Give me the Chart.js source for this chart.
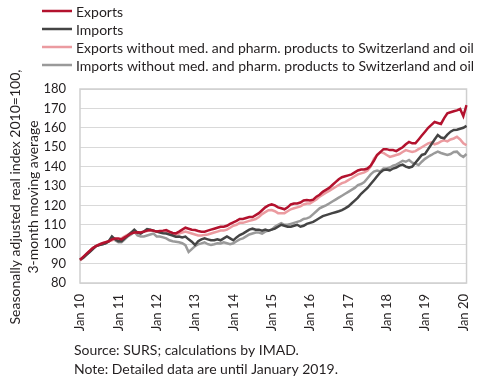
<!DOCTYPE html>
<html>
<head>
<meta charset="utf-8">
<script src="https://cdn.jsdelivr.net/npm/chart.js@4/dist/chart.umd.min.js"></script>
<style>
html,body{margin:0;padding:0;background:#fff;}
#wrap{position:relative;width:490px;height:378px;}
canvas{display:block;}
</style>
</head>
<body>
<div id="wrap"><canvas id="c" width="490" height="378"></canvas></div>
<script>
// ---- data ----
const years = ["10","11","12","13","14","15","16","17","18","19","20"];
const monthNames = ["Jan","Feb","Mar","Apr","May","Jun","Jul","Aug","Sep","Oct","Nov","Dec"];
const tickLabels = ["Jan 10","Jan 11","Jan 12","Jan 13","Jan 14","Jan 15","Jan 16","Jan 17","Jan 18","Jan 19","Jan 20"];
const seriesNames = [
  "Exports",
  "Imports",
  "Exports without med. and pharm. products to Switzerland and oil",
  "Imports without med. and pharm. products to Switzerland and oil"
];
const exportsVals = [
  92, 93.5, 95, 96.5, 98, 99, 99.8, 100.5, 101, 101.5, 102.5, 103,
  103, 102.5, 103.5, 104.5, 105.5, 106, 106.2, 106, 106.5, 107, 107.3, 107,
  106.5, 106.8, 107, 107.3, 106.5, 105.8, 105.6, 106.5, 107.5, 108.5, 108, 107.5,
  107.3, 106.8, 106.4, 106.4, 107, 107.5, 108, 108.5, 109, 109, 109.5, 110.5,
  111.3, 112, 113, 113, 113.5, 114, 114, 115, 116, 117.5, 119, 120,
  120.5, 120, 119, 118.5, 118, 119, 120.5, 121, 121, 121.5, 122.5, 122.8,
  122.5, 123, 124.5, 125.5, 127, 128, 129, 130.5, 132, 133.5, 134.5, 135,
  135.5, 136, 137, 138, 138.5, 138.5, 139, 140.5, 143, 146, 147.5, 149,
  149, 148.5, 148.5, 148, 149, 150, 151.5, 152.7, 152, 152, 154, 156,
  158, 160, 161.5, 163, 162.5, 162, 165, 167.5, 168, 168.5, 169, 169.7,
  166, 171.7
];
const importsVals = [
  92, 93, 94.5, 96, 97.5, 99, 99.5, 100, 100.5, 101.5, 104, 102.5,
  101.5, 101.5, 103, 104.5, 106, 107.5, 106, 105.5, 106.5, 107.8, 107.5, 107,
  106.5, 106, 105.7, 105.5, 105, 104.5, 103.9, 104, 103.5, 103.9, 102.5, 101.3,
  99.6, 101.5, 102.5, 103, 102.5, 102, 102, 102.5, 102, 103, 104, 103,
  102, 103.5, 104.7, 105.5, 106.5, 107.5, 108, 107.5, 107.5, 107, 107.5, 107,
  107.5, 108, 109, 110, 109.5, 109, 109, 109.5, 110, 109, 109.5, 110.5,
  111, 111.5, 112.5, 113.5, 114.5, 115, 115.5, 116, 116.5, 117, 117.6, 118.5,
  119.5, 121, 122.5, 124, 126, 127.5, 129, 131, 133, 135, 137, 138.2,
  138.5, 138, 139, 139.5, 140.5, 141, 140, 139.5, 140, 142, 144, 146,
  146.5, 149, 151.5, 154, 156.3, 155, 154.6, 156.5, 158, 158.9, 159, 159.5,
  160, 161
];
const exportsExVals = [
  91.5, 93, 95, 96.5, 98, 99, 100, 100.5, 101, 101.5, 102, 102.5,
  102.5, 103, 104, 105, 106, 106, 106, 106, 106.5, 106.8, 107, 106.8,
  106.5, 106.5, 106.3, 106.5, 106, 105.5, 105, 105.5, 106, 106.5, 106, 105.5,
  105, 104.5, 104.5, 104.8, 105, 105.5, 106, 106.5, 107, 107, 107.5, 108.5,
  109.5, 110, 111, 111, 111.5, 112, 112.5, 113, 114, 115.5, 116.5, 117.5,
  117.6, 117, 116, 115.9, 116, 117, 118, 118.5, 119, 119.5, 120.5, 121,
  121, 122, 123, 124.5, 125.5, 126.5, 127.5, 128.5, 129.5, 130.5, 131.5, 132,
  133, 134, 135, 136, 136.5, 137, 138, 140, 144, 146, 147.5, 147,
  146, 145, 145.5, 146, 146.5, 147.5, 148.5, 148, 147.5, 148, 149, 150,
  151, 152, 152.5, 151.5, 152, 153, 153.5, 153, 154, 154.5, 155.4, 154,
  152, 151
];
const importsExVals = [
  92, 93, 94.5, 96, 97.5, 99, 99.5, 100, 100.5, 101.5, 103.5, 102,
  101, 101, 102.5, 104, 105, 106.5, 104.5, 104, 104, 104.5, 105, 105.5,
  104, 104, 103.5, 103, 102, 101.5, 101.3, 101, 100.5, 99.5, 96, 97.5,
  99, 100, 100.4, 101, 100, 99.6, 100, 100.5, 100.4, 101, 100.5, 100,
  100.5, 101.5, 102.5, 103, 104, 105, 105.5, 106, 106, 105.5, 106.5, 107,
  107.5, 109, 110, 110.8, 110, 110, 110.5, 111, 111.5, 112, 113, 113.3,
  114, 115.5, 117, 118.5, 119.3, 120, 121, 122, 123, 124, 125, 126,
  127, 128, 129, 130.5, 131, 132, 134, 136, 137.4, 138, 137.5, 139,
  139, 139.5, 140.5, 141, 142, 143, 142.5, 143.4, 142, 141.5, 140.8, 142.5,
  144, 145.1, 146, 147, 147.7, 147, 146.5, 146, 146.5, 147.5, 147.7, 146,
  145, 146.5
];
const yTitle = ["Seasonally adjusted real index 2010=100,", "3-month moving average"];
const footerLines = ["Source: SURS; calculations by IMAD.", "Note: Detailed data are until January 2019."];

// categories: monthly from Jan 2010
const categories = [];
for (let i = 0; i < exportsVals.length; i++) {
  categories.push(monthNames[i % 12] + " " + years[Math.floor(i / 12)]);
}

const FONT = "Lato, 'Open Sans', sans-serif";
const TXT = "#231f20";

const extras = {
  id: "extras",
  beforeDatasetsDraw(chart) {
    const {ctx, chartArea: a} = chart;
    ctx.save();
    ctx.strokeStyle = "#cfcfcf";
    ctx.lineWidth = 1.5;
    ctx.strokeRect(a.left, a.top, a.right - a.left, a.bottom - a.top);
    ctx.restore();
  },
  afterDraw(chart) {
    const ctx = chart.ctx;
    ctx.save();
    ctx.font = "14px " + FONT;
    ctx.fillStyle = TXT;
    ctx.textBaseline = "middle";
    // legend
    chart.data.datasets.forEach((ds, i) => {
      const y = 11 + i * 18;
      ctx.strokeStyle = ds.borderColor;
      ctx.lineWidth = 2.5;
      ctx.beginPath();
      ctx.moveTo(42, y);
      ctx.lineTo(72, y);
      ctx.stroke();
      ctx.textAlign = "left";
      ctx.fillText(ds.label, 76, y + 1);
    });
    // y title
    ctx.save();
    ctx.translate(15, 197);
    ctx.rotate(-Math.PI / 2);
    ctx.textAlign = "center";
    ctx.fillText(yTitle[0], 0, 0);
    ctx.fillText(yTitle[1], 0, 18);
    ctx.restore();
    // footer
    ctx.textAlign = "left";
    footerLines.forEach((t, i) => ctx.fillText(t, 74, 350 + i * 19));
    ctx.restore();
  }
};

const colors = ["#b3122e", "#444444", "#eb9ba0", "#9a9a9a"];
const vals = [exportsVals, importsVals, exportsExVals, importsExVals];

new Chart(document.getElementById("c"), {
  type: "line",
  data: {
    labels: categories,
    datasets: vals.map((v, i) => ({
      label: seriesNames[i],
      data: v,
      borderColor: colors[i],
      backgroundColor: colors[i],
      borderWidth: 2.5,
      pointRadius: 0,
      tension: 0,
      fill: false
    }))
  },
  options: {
    responsive: false,
    animation: false,
    events: [],
    layout: {padding: {top: 89, right: 8, left: 0, bottom: 0}},
    plugins: {legend: {display: false}, tooltip: {enabled: false}},
    scales: {
      x: {
        type: "category",
        offset: false,
        afterFit(s) { s.height = 95; },
        grid: {display: false, drawTicks: false},
        border: {display: false},
        ticks: {
          autoSkip: false,
          minRotation: 90,
          maxRotation: 90,
          padding: 11,
          color: TXT,
          font: {family: FONT, size: 13},
          callback(val, idx) {
            const k = tickLabels.indexOf(categories[idx]);
            return k >= 0 ? tickLabels[k] : null;
          }
        }
      },
      y: {
        min: 80,
        max: 180,
        afterFit(s) { s.width = 80; },
        grid: {color: "#d9d9d9", lineWidth: 1, drawTicks: false},
        border: {display: false},
        ticks: {
          stepSize: 10,
          padding: 14,
          color: TXT,
          font: {family: FONT, size: 13}
        }
      }
    }
  },
  plugins: [extras]
});
</script>
</body>
</html>
